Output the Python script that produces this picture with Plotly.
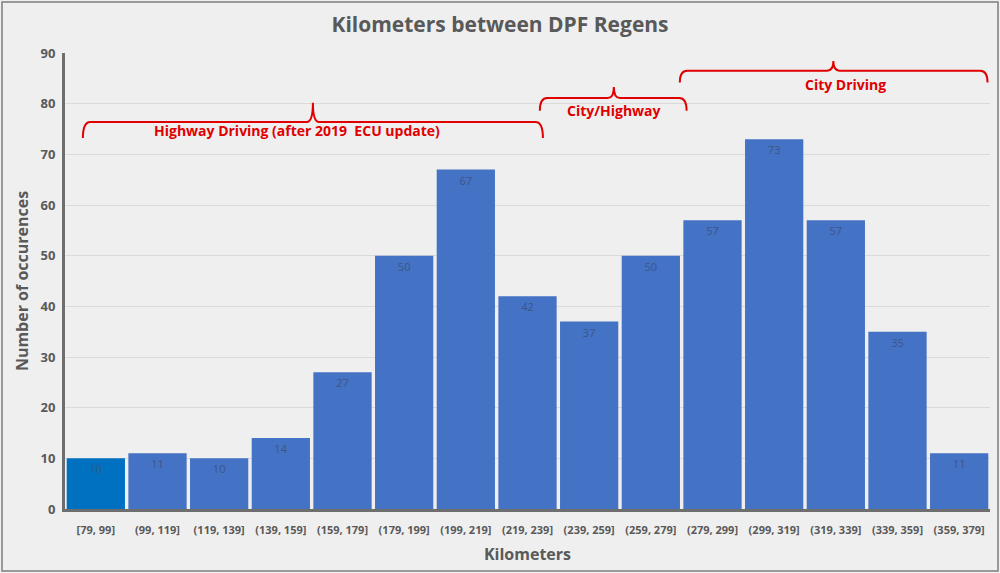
import plotly.graph_objects as go

categories = ["[79, 99]", "(99, 119]", "(119, 139]", "(139, 159]", "(159, 179]",
              "(179, 199]", "(199, 219]", "(219, 239]", "(239, 259]", "(259, 279]",
              "(279, 299]", "(299, 319]", "(319, 339]", "(339, 359]", "(359, 379]"]
counts = [10, 11, 10, 14, 27, 50, 67, 42, 37, 50, 57, 73, 57, 35, 11]
y_ticks = [0, 10, 20, 30, 40, 50, 60, 70, 80, 90]

bar_colors = ["#0070C0"] + ["#4472C4"] * (len(counts) - 1)

FONT = "Open Sans"
GRAY = "#595959"
RED = "#E00000"

fig = go.Figure(go.Bar(
    x=categories, y=counts, marker=dict(color=bar_colors, line=dict(width=0)),
    text=[str(c) for c in counts], textposition="inside", insidetextanchor="end",
    textfont=dict(color="#3E5588", size=11, family=FONT), textangle=0,
    cliponaxis=False,
))

# bracket annotations: (x_left, x_right, x_center, y_bar, y_end, y_peak, label, label_x, label_y)
brackets = [
    (-0.21, 7.25, 3.52, 76.4, 73.2, 80.2, "Highway Driving (after 2019  ECU update)", 3.26, 74.8),
    (7.2, 9.58, 8.4, 81.1, 78.6, 83.3, "City/Highway", 8.4, 78.6),
    (9.47, 14.46, 11.96, 86.5, 84.2, 88.4, "City Driving", 12.15, 83.8),
]
shapes = []
annotations = []
for xl, xr, xc, yb, ye, yp, lab, lx, ly in brackets:
    path = (f"M {xl},{ye} Q {xl},{yb} {xl+0.12},{yb} L {xc-0.1},{yb} Q {xc},{yb} {xc},{yp} "
            f"Q {xc},{yb} {xc+0.1},{yb} L {xr-0.12},{yb} Q {xr},{yb} {xr},{ye}")
    shapes.append(dict(type="path", xref="x", yref="y", path=path,
                       line=dict(color=RED, width=2)))
    annotations.append(dict(x=lx, y=ly, xref="x", yref="y", text=f"<b>{lab}</b>",
                            showarrow=False, font=dict(color=RED, size=14, family=FONT)))

# outer frame
shapes.append(dict(type="rect", xref="paper", yref="paper",
                   x0=-63/925, x1=1 + 8/925, y0=-62/456, y1=1 + 51/456,
                   line=dict(color="#7F7F7F", width=1.5), fillcolor="rgba(0,0,0,0)", layer="below"))

fig.update_layout(
    width=1000, height=573,
    margin=dict(l=65, r=10, t=53, b=64),
    paper_bgcolor="#EFEFEF", plot_bgcolor="#EFEFEF",
    title=dict(text="<b>Kilometers between DPF Regens</b>", x=0.5, xanchor="center",
               y=0.957, yanchor="middle", font=dict(size=21, color=GRAY, family=FONT)),
    bargap=0.055,
    showlegend=False,
    shapes=shapes, annotations=annotations,
    font=dict(family=FONT, color=GRAY),
)
fig.update_yaxes(range=[0, 90], tickvals=y_ticks, ticktext=[f"<b>{v}</b>" for v in y_ticks],
                 showgrid=True, gridcolor="#DADADA", gridwidth=1,
                 showline=True, linecolor="#6E6E6E", linewidth=3, zeroline=False,
                 tickfont=dict(size=13, color=GRAY, family=FONT), ticks="", ticklen=0,
                 ticklabelstandoff=4,
                 title=dict(text="<b>Number of occurences</b>", standoff=8,
                            font=dict(size=16, color=GRAY, family=FONT)))
fig.update_xaxes(showline=True, linecolor="#6E6E6E", linewidth=3, ticks="",
                 tickvals=categories, ticktext=[f"<b>{c}</b>" for c in categories],
                 tickfont=dict(size=11, color=GRAY, family=FONT), tickangle=0,
                 ticklabelstandoff=9,
                 title=dict(text="<b>Kilometers</b>", standoff=13,
                            font=dict(size=16, color=GRAY, family=FONT)))

fig.write_html("out.html")
